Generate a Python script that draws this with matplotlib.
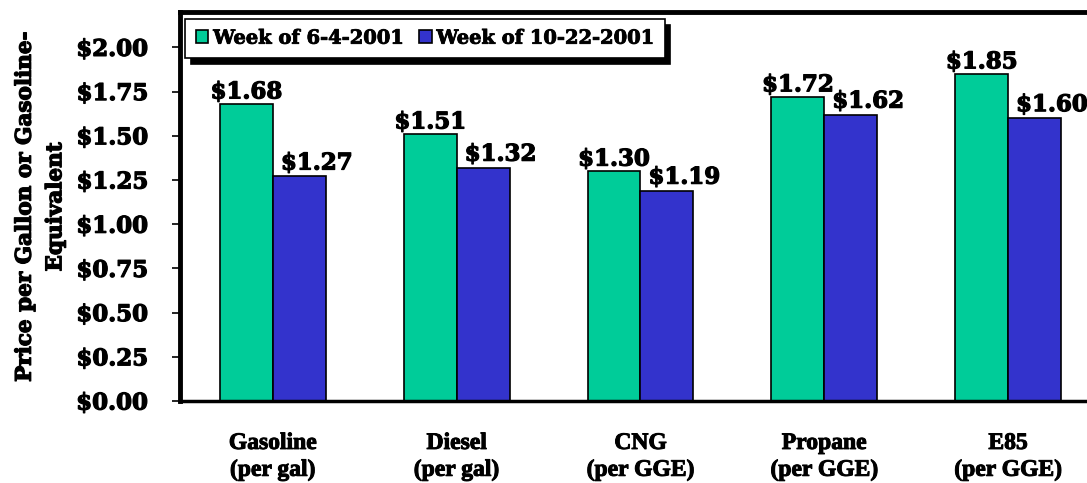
import matplotlib
matplotlib.use('Agg')
import matplotlib.pyplot as plt
import matplotlib.patheffects as pe
import numpy as np

# data
categories = ['Gasoline\n(per gal)', 'Diesel\n(per gal)', 'CNG\n(per GGE)',
              'Propane\n(per GGE)', 'E85\n(per GGE)']
june_prices = [1.68, 1.51, 1.30, 1.72, 1.85]
oct_prices = [1.27, 1.32, 1.19, 1.62, 1.60]
series_names = ['Week of 6-4-2001', 'Week of 10-22-2001']
yticks = [0, 0.25, 0.5, 0.75, 1.0, 1.25, 1.5, 1.75, 2.0]

green = '#00CC99'
blue = '#3333CC'
serif = ['DejaVu Serif']
narrow = ['DejaVu Serif Condensed', 'Liberation Serif']
heavy = [pe.withStroke(linewidth=0.9, foreground='black')]

W, H = 1087, 483
fig = plt.figure(figsize=(W / 100, H / 100), dpi=100)
# axes runs past the right edge, like the original slide crop
ax = fig.add_axes([180 / W, 1 - 401 / H, (1100 - 180) / W, (401 - 12) / H])

x = np.arange(len(categories))
bw = 0.288
b1 = ax.bar(x - bw / 2, june_prices, bw, color=green, edgecolor='black', linewidth=1.2,
            label=series_names[0])
b2 = ax.bar(x + bw / 2, oct_prices, bw, color=blue, edgecolor='black', linewidth=1.2,
            label=series_names[1])

for rect, v in zip(b1, june_prices):
    ax.annotate('$%.2f' % v, (rect.get_x() + rect.get_width() / 2, v),
                xytext=(0, 4), textcoords='offset points', ha='center', va='baseline',
                fontsize=16.5, fontweight='bold', family=serif, path_effects=heavy)
for rect, v in zip(b2, oct_prices):
    ax.annotate('$%.2f' % v, (rect.get_x() + rect.get_width() / 2, v),
                xytext=(12.5, 5), textcoords='offset points', ha='center', va='baseline',
                fontsize=16.5, fontweight='bold', family=serif, path_effects=heavy)

ax.set_xlim(-0.505, 4.5)
ax.set_ylim(0, 2.2)
ax.set_yticks(yticks)
ax.set_yticklabels(['$%.2f' % t for t in yticks], fontsize=16.5, fontweight='bold',
                   family=serif)
for t in ax.get_yticklabels():
    t.set_path_effects(heavy)
ax.set_xticks(x)
ax.set_xticklabels(categories, fontsize=17, fontweight='bold', family=narrow,
                   linespacing=1.35)
for t in ax.get_xticklabels():
    t.set_path_effects([pe.withStroke(linewidth=0.7, foreground='black')])
ax.tick_params(axis='x', length=0, pad=23)
ax.tick_params(axis='y', length=6, width=1.2, direction='out', pad=17)

for s in ['left', 'top', 'right']:
    ax.spines[s].set_linewidth(3.5)
ax.spines['bottom'].set_linewidth(2.5)

fig.text(40 / W, 1 - 207 / H, 'Price per Gallon or Gasoline-\nEquivalent', rotation=90,
         ha='center', va='center', fontsize=15.5, fontweight='bold', family=serif,
         linespacing=1.5, path_effects=heavy)

leg = ax.legend(loc='upper left', bbox_to_anchor=(185 / W, 1 - 19 / H),
                bbox_transform=fig.transFigure, ncol=2, borderaxespad=0,
                fancybox=False, edgecolor='black', framealpha=1,
                shadow={'color': 'black', 'alpha': 1, 'ox': 4, 'oy': -4},
                prop={'family': serif, 'weight': 'bold', 'size': 14},
                handlelength=0.65, handleheight=0.65, handletextpad=0.25,
                columnspacing=0.8, borderpad=0.55)
leg.get_frame().set_linewidth(1.2)
for t in leg.get_texts():
    t.set_path_effects([pe.withStroke(linewidth=0.6, foreground='black')])

fig.savefig('out.png', dpi=100)
